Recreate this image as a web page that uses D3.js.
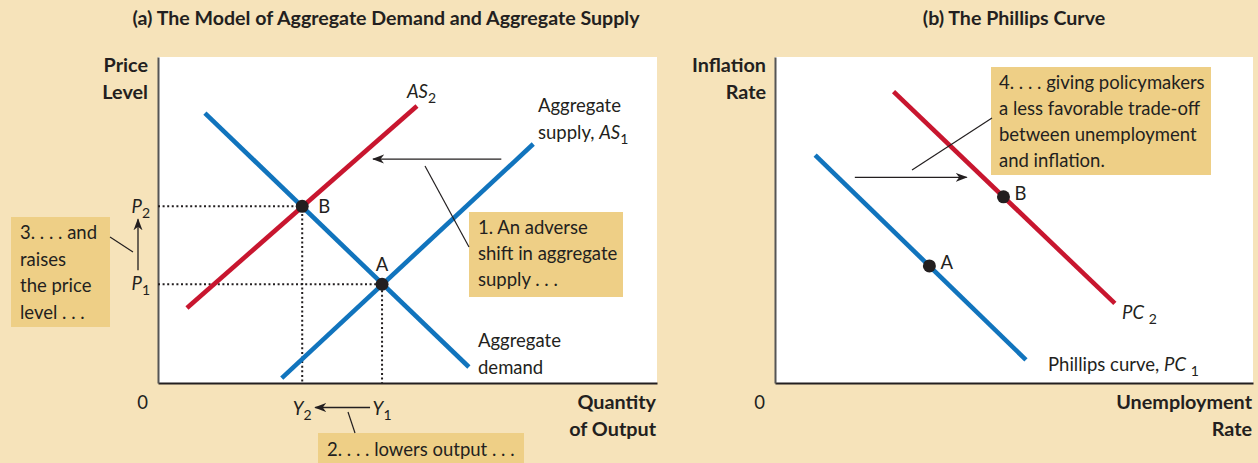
<!DOCTYPE html>
<html><head><meta charset="utf-8">
<script src="https://cdn.jsdelivr.net/npm/d3@7"></script>
<style>
body{margin:0;background:#f6e3ba;}
svg{display:block;font-family:Lato,"Open Sans",sans-serif;}
</style></head><body><svg id="c" width="1258" height="463"></svg>
<script>
// ---------- data ----------
const panelTitles = ["(a) The Model of Aggregate Demand and Aggregate Supply", "(b) The Phillips Curve"];
const adCurve  = [[9.4, 82.8], [62.3, 4.9]];
const as1Curve = [[24.8, 1.5], [75.2, 73.3]];
const as2Curve = [[5.8, 23.0], [51.9, 85.0]];
const adasPoints = [{name: "A", x: 44.9, y: 30.3}, {name: "B", x: 28.9, y: 54.2}];
const shiftLeft = [[68.8, 68.7], [43.1, 68.7]];
const pc1Curve = [[8.4, 69.9], [52.5, 7.1]];
const pc2Curve = [[24.8, 89.4], [71.1, 24.4]];
const pcPoints = [{name: "A", x: 32.3, y: 35.9}, {name: "B", x: 47.8, y: 57.1}];
const shiftRight = [[16.7, 63.1], [40.1, 63.1]];

// ---------- setup ----------
const BLUE = "#1174bd", RED = "#c8162f", INK = "#231f20", BOX = "#eecf86";
const svg = d3.select("#c");
svg.append("rect").attr("width", 1258).attr("height", 463).attr("fill", "#f6e3ba");

const defs = svg.append("defs");
defs.append("marker").attr("id", "arr").attr("viewBox", "0 -5 12 10")
  .attr("refX", 11).attr("refY", 0).attr("markerWidth", 12).attr("markerHeight", 10)
  .attr("markerUnits", "userSpaceOnUse").attr("orient", "auto")
  .append("path").attr("d", "M0,-4.5L12,0L0,4.5L3.5,0Z").attr("fill", INK);

const xa = d3.scaleLinear().domain([0, 100]).range([158, 657]);
const ya = d3.scaleLinear().domain([0, 100]).range([383, 57]);
const xb = d3.scaleLinear().domain([0, 100]).range([775, 1253]);
const yb = d3.scaleLinear().domain([0, 100]).range([383, 57]);

function txt(g, x, y, s, opt = {}) {
  return g.append("text").attr("x", x).attr("y", y).text(s)
    .attr("font-size", opt.size || 18.5).attr("font-weight", opt.bold ? 700 : 400)
    .attr("text-anchor", opt.anchor || "start").attr("fill", INK);
}
function lines(g, x, y0, dy, arr, opt) { arr.forEach((s, i) => txt(g, x, y0 + i * dy, s, opt)); }
function sub(t, main, subs, italic = true, space = "") {
  t.append("tspan").attr("font-style", italic ? "italic" : "normal").text(main);
  if (space) t.append("tspan").text(space);
  t.append("tspan").attr("font-size", 14).attr("dy", 5).text(subs);
}
function frame(g, x, y) {
  g.append("rect").attr("x", x.range()[0]).attr("y", y.range()[1])
    .attr("width", x.range()[1] - x.range()[0]).attr("height", y.range()[0] - y.range()[1]).attr("fill", "#fff");
  const ax = g.append("g").attr("transform", `translate(0,${y.range()[0]})`)
    .call(d3.axisBottom(x).tickValues([]).tickSizeOuter(0));
  const ay = g.append("g").attr("transform", `translate(${x.range()[0]},0)`)
    .call(d3.axisLeft(y).tickValues([]).tickSizeOuter(0));
  ax.select(".domain").attr("stroke", INK).attr("stroke-width", 2);
  ay.select(".domain").attr("stroke", "#555").attr("stroke-width", 2);
}
const line = (x, y) => d3.line().x(d => x(d[0])).y(d => y(d[1]));
const BOLD = {bold: true, anchor: "end", size: 19.8};

// ---------- titles ----------
txt(svg, 386, 25, panelTitles[0], {bold: true, anchor: "middle", size: 19.6});
txt(svg, 1014, 25, panelTitles[1], {bold: true, anchor: "middle", size: 19.6});

// ---------- panel (a) ----------
const ga = svg.append("g");
frame(ga, xa, ya);
lines(ga, 148, 72, 26.5, ["Price", "Level"], BOLD);
lines(ga, 656, 409, 26.5, ["Quantity", "of Output"], BOLD);
txt(ga, 142.5, 409, "0", {anchor: "middle"});

const A = adasPoints[0], B = adasPoints[1];
adasPoints.forEach(p => {
  ga.append("path").attr("d", `M${xa(0)},${ya(p.y)}H${xa(p.x)}V${ya(0)}`)
    .attr("fill", "none").attr("stroke", INK).attr("stroke-width", 2).attr("stroke-dasharray", "2,2.6");
});
[[adCurve, BLUE], [as1Curve, BLUE], [as2Curve, RED]].forEach(([d, c]) =>
  ga.append("path").attr("d", line(xa, ya)(d)).attr("fill", "none").attr("stroke", c).attr("stroke-width", 4.6));
ga.selectAll("circle.pt").data(adasPoints).join("circle").attr("class", "pt")
  .attr("cx", d => xa(d.x)).attr("cy", d => ya(d.y)).attr("r", 6.5).attr("fill", INK);
txt(ga, xa(A.x), ya(A.y) - 13, "A", {anchor: "middle"});
txt(ga, xa(B.x) + 16, ya(B.y) + 7, "B");

ga.append("path").attr("d", line(xa, ya)(shiftLeft)).attr("stroke", INK).attr("stroke-width", 1.3).attr("marker-end", "url(#arr)");

sub(txt(ga, 407, 98, ""), "AS", "2");
txt(ga, 538, 112, "Aggregate");
{ const t = txt(ga, 538, 138.5, "supply, "); sub(t, "AS", "1"); }
lines(ga, 478, 347, 26.5, ["Aggregate", "demand"]);

sub(txt(ga, 150, ya(B.y) + 7, "", {anchor: "end"}), "P", "2");
sub(txt(ga, 150, ya(A.y) + 6, "", {anchor: "end"}), "P", "1");
ga.append("line").attr("x1", 138).attr("x2", 138).attr("y1", ya(A.y) - 14).attr("y2", ya(B.y) + 13)
  .attr("stroke", INK).attr("stroke-width", 1.3).attr("marker-end", "url(#arr)");

sub(txt(ga, xa(B.x), 415, "", {anchor: "middle"}), "Y", "2");
sub(txt(ga, xa(A.x), 415, "", {anchor: "middle"}), "Y", "1");
ga.append("line").attr("x1", xa(A.x) - 12).attr("x2", xa(B.x) + 13).attr("y1", 407.5).attr("y2", 407.5)
  .attr("stroke", INK).attr("stroke-width", 1.3).attr("marker-end", "url(#arr)");

ga.append("rect").attr("x", 469).attr("y", 212).attr("width", 154).attr("height", 85).attr("fill", BOX);
lines(ga, 478, 233.5, 26.3, ["1. An adverse", "shift in aggregate", "supply . . ."]);
ga.append("line").attr("x1", 425).attr("y1", 166).attr("x2", 469).attr("y2", 247).attr("stroke", INK).attr("stroke-width", 1.2);

ga.append("rect").attr("x", 318).attr("y", 433).attr("width", 206).attr("height", 32).attr("fill", BOX);
txt(ga, 327, 456, "2. . . . lowers output . . .");
ga.append("line").attr("x1", 348).attr("y1", 412).attr("x2", 355).attr("y2", 433).attr("stroke", INK).attr("stroke-width", 1.2);

ga.append("rect").attr("x", 11).attr("y", 217).attr("width", 99).attr("height", 110).attr("fill", BOX);
lines(ga, 20, 239, 26.5, ["3. . . . and", "raises", "the price", "level . . ."]);
ga.append("line").attr("x1", 110).attr("y1", 237).attr("x2", 133).attr("y2", 252).attr("stroke", INK).attr("stroke-width", 1.2);

// ---------- panel (b) ----------
const gb = svg.append("g");
frame(gb, xb, yb);
lines(gb, 766, 72, 26.5, ["Inflation", "Rate"], BOLD);
lines(gb, 1252, 409, 26.5, ["Unemployment", "Rate"], BOLD);
txt(gb, 759.5, 409, "0", {anchor: "middle"});

[[pc1Curve, BLUE], [pc2Curve, RED]].forEach(([d, c]) =>
  gb.append("path").attr("d", line(xb, yb)(d)).attr("fill", "none").attr("stroke", c).attr("stroke-width", 4.6));
gb.selectAll("circle.pt").data(pcPoints).join("circle").attr("class", "pt")
  .attr("cx", d => xb(d.x)).attr("cy", d => yb(d.y)).attr("r", 6.5).attr("fill", INK);
pcPoints.forEach(p => txt(gb, xb(p.x) + 11, yb(p.y) + 3, p.name));

gb.append("path").attr("d", line(xb, yb)(shiftRight)).attr("stroke", INK).attr("stroke-width", 1.3).attr("marker-end", "url(#arr)");

sub(txt(gb, 1122, 319, ""), "PC", "2", true, " ");
{ const t = txt(gb, 1048, 371, "Phillips curve, "); sub(t, "PC", "1", true, " "); }

gb.append("rect").attr("x", 991).attr("y", 67).attr("width", 220).attr("height", 108).attr("fill", BOX);
lines(gb, 999, 88.5, 26.2, ["4. . . . giving policymakers", "a less favorable trade-off", "between unemployment", "and inflation."]);
gb.append("line").attr("x1", 912).attr("y1", 170).attr("x2", 992).attr("y2", 118).attr("stroke", INK).attr("stroke-width", 1.2);
</script></body></html>
